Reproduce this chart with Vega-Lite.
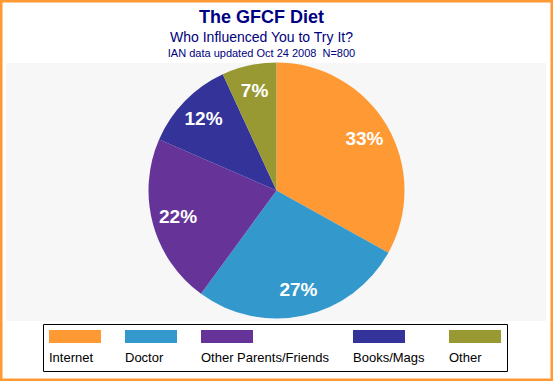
{
  "$schema": "https://vega.github.io/schema/vega-lite/v6.json",
  "width": 553,
  "height": 381,
  "autosize": "none",
  "padding": 0,
  "background": "white",
  "title": {
    "text": "The GFCF Diet",
    "subtitle": "Who Influenced You to Try It?",
    "font": "Liberation Sans",
    "fontSize": 18,
    "fontWeight": "bold",
    "color": "#000080",
    "subtitleFont": "Liberation Sans",
    "subtitleFontSize": 14,
    "subtitleColor": "#000080",
    "subtitlePadding": 4,
    "anchor": "middle",
    "frame": "group",
    "offset": -45,
    "dx": -15
  },
  "config": {
    "view": {"stroke": "#ff9933", "strokeWidth": 5, "fill": "white"}
  },
  "layer": [
    {
      "data": {"values": [{"area": "plot"}]},
      "mark": {"type": "rect", "color": "#f7f7f7"},
      "encoding": {
        "x": {
          "field": "area",
          "type": "nominal",
          "scale": {"paddingOuter": 0.012, "paddingInner": 0, "align": 0.46},
          "axis": {
            "orient": "top",
            "title": "IAN data updated Oct 24 2008\u00a0 N=800",
            "labels": false,
            "ticks": false,
            "domain": false,
            "grid": false,
            "offset": -60,
            "titleFont": "Liberation Sans",
            "titleFontSize": 11,
            "titleFontWeight": "normal",
            "titleColor": "#000080",
            "titlePadding": 2,
            "titleX": 261
          }
        },
        "y": {
          "field": "area",
          "type": "nominal",
          "scale": {"paddingOuter": 0.2384, "paddingInner": 0, "align": 0.512},
          "axis": null
        }
      }
    },
    {
      "data": {
        "values": [
          {"source": "Internet", "pct": 33.1, "label": "33%", "rank": 1},
          {"source": "Doctor", "pct": 27.0, "label": "27%", "rank": 2},
          {"source": "Other Parents/Friends", "pct": 21.5, "label": "22%", "rank": 3},
          {"source": "Books/Mags", "pct": 11.6, "label": "12%", "rank": 4},
          {"source": "Other", "pct": 6.9, "label": "7%", "rank": 5}
        ]
      },
      "encoding": {
        "theta": {"field": "pct", "type": "quantitative", "stack": true},
        "order": {"field": "rank", "type": "quantitative"},
        "color": {
          "field": "source",
          "type": "nominal",
          "scale": {
            "domain": ["Internet", "Doctor", "Other Parents/Friends", "Books/Mags", "Other"],
            "range": ["#ff9933", "#3399cc", "#663399", "#333399", "#999933"]
          },
          "legend": {
            "orient": "none",
            "legendX": 43,
            "legendY": 324,
            "direction": "horizontal",
            "title": null,
            "fillColor": "white",
            "strokeColor": "black",
            "padding": 6,
            "symbolType": "M-1,-1H3V0H-1Z",
            "symbolSize": 676,
            "symbolStrokeWidth": 0,
            "labelOffset": -26,
            "labelFont": "Liberation Sans",
            "labelFontSize": 13,
            "labelColor": "black",
            "labelBaseline": "alphabetic",
            "columnPadding": 24,
            "labelLimit": 200,
            "encode": {
              "labels": {"update": {"dy": {"value": 19}}}
            }
          }
        }
      },
      "layer": [
        {"mark": {"type": "arc", "radius": 128}},
        {
          "mark": {
            "type": "text",
            "radius": 102,
            "font": "Liberation Sans",
            "fontSize": 19,
            "fontWeight": "bold"
          },
          "encoding": {
            "text": {"field": "label"},
            "detail": {"field": "source"},
            "color": {"value": "white"}
          }
        }
      ]
    }
  ]
}
